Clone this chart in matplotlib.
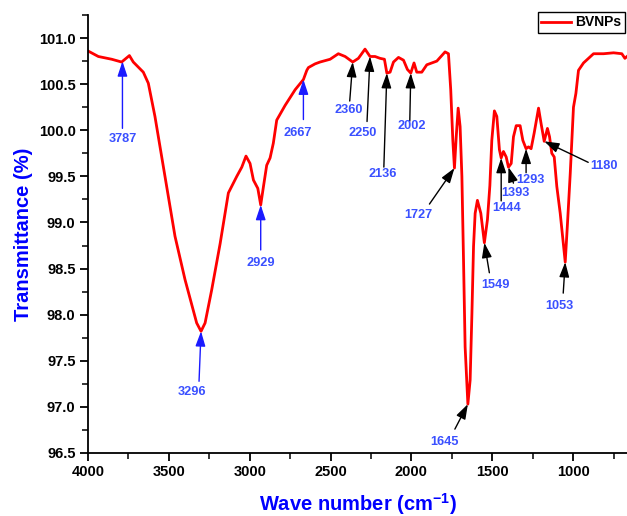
import numpy as np
import matplotlib
matplotlib.use("Agg")
import matplotlib.pyplot as plt
from matplotlib.ticker import MultipleLocator, FormatStrFormatter

plt.rcParams['font.family'] = ['Liberation Sans', 'DejaVu Sans']
plt.rcParams['font.weight'] = 'bold'
plt.rcParams['mathtext.fontset'] = 'custom'
plt.rcParams['mathtext.rm'] = 'Liberation Sans:bold'
plt.rcParams['mathtext.bf'] = 'Liberation Sans:bold'
plt.rcParams['mathtext.default'] = 'bf'

wavenumber = [4000, 3936, 3853, 3792, 3744, 3720, 3658, 3627, 3586, 3524, 3462, 3400,
              3328, 3301, 3276, 3235, 3183, 3132, 3080, 3049, 3023, 2998, 2977, 2950,
              2932, 2915, 2895, 2874, 2854, 2833, 2781, 2719, 2668, 2647, 2637, 2596,
              2565, 2503, 2452, 2410, 2363, 2328, 2287, 2256, 2225, 2194, 2167, 2152,
              2132, 2111, 2080, 2049, 2025, 2004, 1984, 1967, 1936, 1905, 1843, 1802,
              1792, 1771, 1757, 1744, 1734, 1723, 1711, 1699, 1688, 1678, 1668, 1651,
              1637, 1626, 1616, 1606, 1592, 1571, 1549, 1530, 1515, 1503, 1487, 1472,
              1456, 1445, 1431, 1414, 1400, 1383, 1369, 1352, 1328, 1311, 1291, 1276,
              1260, 1241, 1214, 1198, 1179, 1159, 1146, 1132, 1117, 1101, 1080, 1049,
              1035, 1018, 998, 983, 967, 936, 874, 812, 750, 699, 680, 667]
transmittance = [100.86, 100.80, 100.77, 100.74, 100.81, 100.74, 100.63, 100.51, 100.15, 99.50, 98.85, 98.38,
                 97.91, 97.82, 97.91, 98.27, 98.77, 99.32, 99.50, 99.60, 99.72, 99.64, 99.46, 99.37,
                 99.19, 99.39, 99.62, 99.70, 99.86, 100.11, 100.27, 100.44, 100.55, 100.65, 100.68, 100.72,
                 100.74, 100.77, 100.83, 100.80, 100.74, 100.78, 100.88, 100.80, 100.80, 100.78, 100.77, 100.62,
                 100.63, 100.74, 100.79, 100.76, 100.66, 100.62, 100.73, 100.63, 100.63, 100.71, 100.75, 100.83,
                 100.85, 100.83, 100.44, 99.89, 99.59, 99.93, 100.24, 100.04, 99.50, 98.60, 97.65, 97.03,
                 97.29, 98.01, 98.74, 99.10, 99.24, 99.10, 98.78, 99.03, 99.40, 99.89, 100.21, 100.15,
                 99.79, 99.70, 99.77, 99.71, 99.60, 99.64, 99.93, 100.05, 100.05, 99.89, 99.80, 99.82,
                 99.80, 99.97, 100.24, 100.07, 99.88, 100.02, 99.93, 99.75, 99.71, 99.39, 99.10, 98.57,
                 98.99, 99.53, 100.25, 100.40, 100.65, 100.73, 100.83, 100.83, 100.84, 100.83, 100.78, 100.80]

peak_labels = ['3787', '3296', '2929', '2667', '2360', '2250', '2136', '2002',
               '1727', '1645', '1549', '1444', '1393', '1293', '1180', '1053']
peak_head_x = [3787, 3301, 2932, 2668, 2363, 2256, 2152, 2004,
               1734, 1651, 1549, 1445, 1400, 1291, 1179, 1049]
blue_peaks = ['3787', '3296', '2929', '2667']
# offsets in pixels: tail (dx, dy) and label (dx, dy) relative to arrow head
tail_off = [(0, -67), (-2, -50), (0, -45), (0, -40), (-3, -39), (-3, -65), (-3, -94), (-1, -48),
            (-25, -36), (-13, -25), (5, -30), (0, -43), (5, -16), (0, -24), (44, -21), (-2, -31)]
label_off = [(0, -78), (-9, -61), (0, -58), (-6, -53), (-4, -48), (-7, -77), (-4, -101), (1, -53),
             (-36, -47), (-23, -38), (11, -42), (5, -50), (7, -26), (4, -31), (60, -25), (-6, -44)]

fig = plt.figure(figsize=(6.27, 5.16), dpi=100)
ax = fig.add_axes([88/627, 63/516, 539/627, 438/516])

ax.plot(wavenumber, transmittance, color='#ff0000', lw=2.0, label='BVNPs', solid_joinstyle='round')
ax.set_xlim(4000, 667)
ax.set_ylim(96.5, 101.25)

wn_arr = np.array(wavenumber[::-1], dtype=float)
tr_arr = np.array(transmittance[::-1], dtype=float)
for lab, hx, toff, loff in zip(peak_labels, peak_head_x, tail_off, label_off):
    hy = float(np.interp(hx, wn_arr, tr_arr))
    is_blue = lab in blue_peaks
    acol = '#1a1aff' if is_blue else 'black'
    ax.annotate('', xy=(hx, hy), xytext=(toff[0], toff[1]), textcoords='offset pixels',
                arrowprops=dict(arrowstyle='-|>,head_length=0.9,head_width=0.3',
                                color=acol, lw=1.0, shrinkA=0, shrinkB=0, mutation_scale=10))
    ax.annotate(lab, xy=(hx, hy), xytext=(loff[0], loff[1]), textcoords='offset pixels',
                ha='center', va='center', fontsize=9.2, fontweight='bold', color='#3a50ff')

for s in ['top', 'right']:
    ax.spines[s].set_visible(False)
for s in ['left', 'bottom']:
    ax.spines[s].set_linewidth(1.3)

ax.xaxis.set_major_locator(MultipleLocator(500))
ax.xaxis.set_minor_locator(MultipleLocator(250))
ax.yaxis.set_major_locator(MultipleLocator(0.5))
ax.yaxis.set_minor_locator(MultipleLocator(0.25))
ax.yaxis.set_major_formatter(FormatStrFormatter('%.1f'))
ax.tick_params(which='major', direction='out', length=6, width=1.3, labelsize=10.5, pad=3)
ax.tick_params(which='minor', direction='out', length=4, width=1.1)
for t in ax.get_xticklabels() + ax.get_yticklabels():
    t.set_fontweight('bold')

ax.set_xlabel('Wave number (cm$^{-1}$)', fontsize=14.5, fontweight='bold', color='#0000ff', labelpad=8)
ax.set_ylabel('Transmittance (%)', fontsize=14.5, fontweight='bold', color='#0000ff', labelpad=4)

leg = fig.legend(loc='upper left', bbox_to_anchor=(538/627, 1 - 12/516), borderaxespad=0,
                 fancybox=False, edgecolor='black', framealpha=1, handlelength=2.1,
                 handletextpad=0.35, borderpad=0.25, prop={'weight': 'bold', 'size': 10})
leg.get_frame().set_linewidth(1.0)

fig.savefig('out.png', dpi=100)
